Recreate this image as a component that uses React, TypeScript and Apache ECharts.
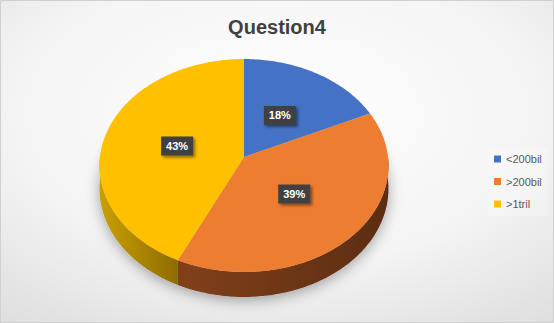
import React, { useEffect, useRef } from 'react';
import * as echarts from 'echarts';

// Pie data: answer categories and their share of responses (%)
const categories = ['<200bil', '>200bil', '>1tril'];
const shares = [18, 39, 43];
const topColors = ['#4472c4', '#ed7d31', '#ffc000'];
const sideColors = [
  ['#34589a', '#263f70'],
  ['#81401a', '#5c2d12'],
  ['#caa000', '#8f6c00'],
];

// 3D pie geometry (tilted disc seen in perspective)
const CX = 244;
const CY = 157;
const RX = 144;
const RY = 105.8;
const PERSP = 0.08;
const DEPTH = 23;

function project(deg: number, r: number, drop: number): number[] {
  const t = (deg * Math.PI) / 180;
  const u = Math.sin(t) * r;
  const v = -Math.cos(t) * r;
  const w = 1 - PERSP * v;
  return [CX + (RX * u) / w, CY + (RY * v + drop) / w];
}

function arc(a: number, b: number, drop: number): number[][] {
  const pts: number[][] = [];
  const step = a < b ? 1 : -1;
  for (let d = a; step > 0 ? d < b : d > b; d += step) pts.push(project(d, 1, drop));
  pts.push(project(b, 1, drop));
  return pts;
}

const total = shares.reduce((s, v) => s + v, 0);

function sliceRange(i: number, value: number): [number, number] {
  const before = shares.slice(0, i).reduce((s, v) => s + v, 0);
  const start = (before / total) * 360;
  return [start, start + (value / total) * 360];
}

function App() {
  const ref = useRef<HTMLDivElement>(null);

  useEffect(() => {
    if (!ref.current) return;
    const chart = echarts.init(ref.current, null, { renderer: 'svg' });

    const sliceSeries = categories.map((name, i) => ({
      type: 'custom',
      name,
      coordinateSystem: 'none',
      data: [shares[i]],
      itemStyle: { color: topColors[i] },
      renderItem: (_params: any, api: any) => {
        const value = api.value(0);
        const [start, end] = sliceRange(i, value);
        const children: any[] = [];
        const s = Math.max(start, 90);
        const e = Math.min(end, 270);
        if (s < e) {
          const pts = arc(s, e, 0).concat(arc(e, s, DEPTH));
          children.push({
            type: 'polygon',
            z2: 1,
            shape: { points: pts },
            style: {
              fill: {
                type: 'linear', x: 0, y: 0, x2: 1, y2: 0,
                colorStops: [
                  { offset: 0, color: sideColors[i][0] },
                  { offset: 1, color: sideColors[i][1] },
                ],
              },
            },
          });
        }
        children.push({
          type: 'polygon',
          z2: 2,
          shape: { points: [project(0, 0, 0)].concat(arc(start, end, 0)) },
          style: { fill: topColors[i] },
        });
        const pos = project((start + end) / 2, 0.48, 0);
        children.push({
          type: 'text',
          z2: 100,
          x: pos[0],
          y: pos[1],
          style: {
            text: Math.round((value / total) * 100) + '%',
            fill: '#ffffff',
            font: 'bold 11px "Liberation Sans", Arial, sans-serif',
            align: 'center',
            verticalAlign: 'middle',
            backgroundColor: '#404040',
            padding: [4, 5, 4, 5],
            shadowColor: 'rgba(0,0,0,0.45)',
            shadowBlur: 3,
            shadowOffsetX: 2,
            shadowOffsetY: 2,
          },
        });
        return { type: 'group', children };
      },
    }));

    // soft ground shadow under the whole disc
    const shadowSeries = {
      type: 'custom',
      name: 'shadow',
      coordinateSystem: 'none',
      silent: true,
      z: 1,
      data: [total],
      renderItem: () => ({
        type: 'polygon',
        shape: { points: arc(0, 360, DEPTH) },
        style: {
          fill: '#c8c8c8',
          shadowColor: 'rgba(0,0,0,0.35)',
          shadowBlur: 14,
          shadowOffsetY: 3,
        },
      }),
    };

    chart.setOption({
      animation: false,
      graphic: [
        {
          type: 'rect',
          z: -10,
          silent: true,
          shape: { x: 0.5, y: 0.5, width: 553, height: 322 },
          style: {
            fill: {
              type: 'radial', x: 0.5, y: 0.35, r: 1.05,
              colorStops: [
                { offset: 0, color: '#ffffff' },
                { offset: 0.45, color: '#f4f4f4' },
                { offset: 1, color: '#cfcfcf' },
              ],
            },
            stroke: '#d0d0d0',
            lineWidth: 1,
          },
        },
      ],
      title: {
        text: 'Question4',
        left: 'center',
        top: 12,
        textStyle: {
          fontSize: 20,
          fontWeight: 'bold',
          color: '#404040',
          fontFamily: '"Liberation Sans", Arial, sans-serif',
        },
      },
      legend: {
        data: categories,
        orient: 'vertical',
        left: 488,
        top: 147,
        padding: [5, 6, 5, 6],
        backgroundColor: 'rgba(255,255,255,0.22)',
        icon: 'rect',
        itemWidth: 7,
        itemHeight: 7,
        itemGap: 8.5,
        textStyle: {
          fontSize: 11,
          lineHeight: 14,
          color: '#595959',
          fontFamily: '"Liberation Sans", Arial, sans-serif',
        },
      },
      series: [shadowSeries, ...sliceSeries.map((s) => ({ ...s, z: 2 }))],
    });

    return () => chart.dispose();
  }, []);

  return (
    <div
      ref={ref}
      style={{ position: 'absolute', left: 0, top: 0, width: 554, height: 323 }}
    />
  );
}

export default App;
